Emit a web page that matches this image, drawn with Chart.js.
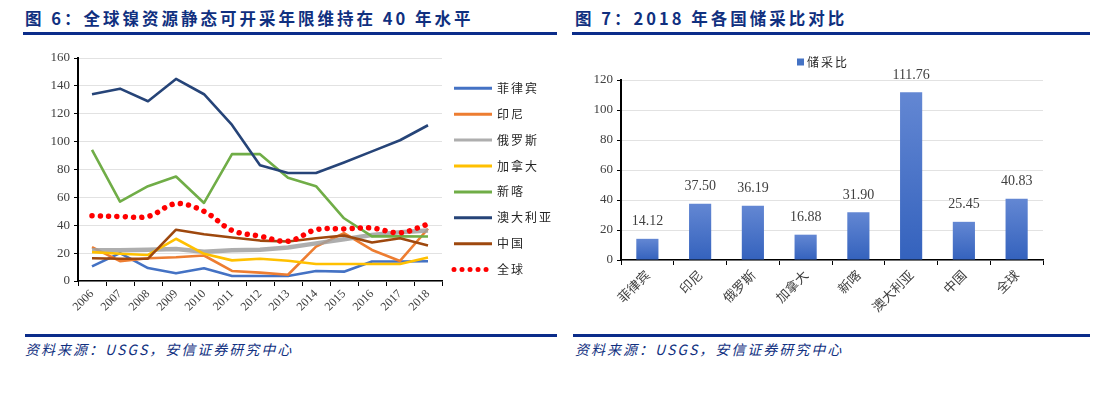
<!DOCTYPE html>
<html><head><meta charset="utf-8">
<script src="https://cdn.jsdelivr.net/npm/chart.js@4/dist/chart.umd.min.js"></script>
<style>
body{margin:0;width:1112px;height:393px;background:#fff;position:relative;overflow:hidden;font-family:"Noto Sans CJK SC",sans-serif;}
.title{position:absolute;top:8px;font-size:16.5px;font-weight:bold;color:#10307f;letter-spacing:3px;white-space:nowrap;line-height:20px}
.rule{position:absolute;height:3px;background:#0b2c8a}
.src{position:absolute;top:340px;font-size:14px;font-style:italic;color:#10307f;letter-spacing:2px;white-space:nowrap;line-height:18px}
canvas{position:absolute}
</style></head>
<body>
<div class="title" style="left:25px">图 6：全球镍资源静态可开采年限维持在 40 年水平</div>
<div class="rule" style="left:23px;width:534px;top:32px"></div>
<div class="title" style="left:575px">图 7：2018 年各国储采比对比</div>
<div class="rule" style="left:572px;width:518px;top:32px"></div>
<canvas id="c1" width="540" height="285" style="left:20px;top:45px"></canvas>
<canvas id="c2" width="530" height="285" style="left:570px;top:45px"></canvas>
<div class="rule" style="left:25px;width:532px;top:334px;height:2.5px"></div>
<div class="rule" style="left:573px;width:517px;top:334px;height:2.5px"></div>
<div class="src" style="left:25px">资料来源：USGS，安信证券研究中心</div>
<div class="src" style="left:575px">资料来源：USGS，安信证券研究中心</div>
<script>
// ---- data ----
const years = ['2006','2007','2008','2009','2010','2011','2012','2013','2014','2015','2016','2017','2018'];
const seriesNames = ['菲律宾','印尼','俄罗斯','加拿大','新喀','澳大利亚','中国','全球'];
const philippines  = [10.5, 20, 9.3, 5.5, 9.1, 3.6, 3.6, 3.6, 7.2, 6.7, 14, 14, 14.12];
const indonesia    = [24.3, 14.2, 16.3, 17, 18.3, 7.2, 6, 4.5, 24.7, 34.3, 22.3, 14.4, 37.50];
const russia       = [22, 22, 22.5, 23, 21, 22, 22.5, 24, 27, 30, 33, 35, 36.19];
const canada       = [20.7, 19.5, 18.7, 30.3, 19.5, 14.8, 16, 14.5, 12.2, 12.2, 12.2, 12.2, 16.88];
const newCaledonia = [94, 57, 68, 75, 56, 91, 91, 74, 68, 45, 32, 32, 31.90];
const australia    = [134, 138, 129, 145, 134, 112, 83, 77.5, 77.5, 85, 93, 101, 111.76];
const china        = [16.3, 16, 16, 36.8, 33.6, 31.2, 29, 28.3, 30.7, 32.7, 27.6, 30.7, 25.45];
const world        = [46.8, 46.3, 46.3, 55.5, 50, 36.3, 32.2, 28.5, 36.8, 37.4, 38, 34.6, 40.83];

const barCategories = ['菲律宾','印尼','俄罗斯','加拿大','新喀','澳大利亚','中国','全球'];
const reserveRatio  = [14.12, 37.50, 36.19, 16.88, 31.90, 111.76, 25.45, 40.83];
const barLegend = '储采比';

const leftTicks = {min:0, max:160, step:20};
const rightTicks = {min:0, max:120, step:20};

// ---- styles ----
Chart.defaults.font.family = '"Liberation Serif", serif';
Chart.defaults.color = '#404040';
const lineColors = ['#4472C4','#ED7D31','rgba(160,160,160,0.85)','#FFC000','#70AD47','#264478','#9E480E','#FF0000'];
const lineSeries = [philippines, indonesia, russia, canada, newCaledonia, australia, china, world];

const datasets = lineSeries.map((d,i)=>{
  const isWorld = i === 7;
  return {
    label: seriesNames[i],
    data: d,
    borderColor: lineColors[i],
    backgroundColor: lineColors[i],
    borderWidth: isWorld ? 5.5 : (i===2 ? 4.5 : 2.6),
    borderDash: isWorld ? [0.01, 8.3] : undefined,
    borderCapStyle: isWorld ? 'round' : 'butt',
    borderJoinStyle: 'round',
    tension: isWorld ? 0.35 : 0,
    pointRadius: 0,
    fill: false,
    order: 7 - i
  };
});

const leftLegend = {
  id:'leftLegend',
  afterDraw(chart){
    const ctx = chart.ctx;
    chart.data.datasets.forEach((ds,i)=>{
      const y = 43.3 + i*25.9;
      ctx.save();
      ctx.strokeStyle = ds.borderColor;
      if (ds.borderDash){ ctx.setLineDash([0.01,8]); ctx.lineCap='round'; ctx.lineWidth=5; }
      else { ctx.lineWidth = 3; }
      ctx.beginPath(); ctx.moveTo(434,y); ctx.lineTo(472,y); ctx.stroke();
      ctx.setLineDash([]);
      ctx.fillStyle='#262626';
      ctx.font='12px "Noto Sans CJK SC"';
      ctx.letterSpacing='2px';
      ctx.textBaseline='middle'; ctx.textAlign='left';
      ctx.fillText(ds.label, 477, y);
      ctx.restore();
    });
  }
};

new Chart(document.getElementById('c1'), {
  type:'line',
  data:{labels: years, datasets},
  options:{
    responsive:false, animation:false, devicePixelRatio:1,
    layout:{padding:{top:13,right:118,left:0,bottom:0}},
    plugins:{legend:{display:false}, tooltip:{enabled:false}},
    scales:{
      x:{
        offset:true,
        grid:{offset:true, drawOnChartArea:false, tickColor:'#000', tickLength:5, lineWidth:1},
        border:{color:'#000', width:1.5},
        ticks:{autoSkip:false, maxRotation:45, minRotation:45, font:{size:12}, color:'#404040', padding:1},
        afterFit(s){ s.height = 49; }
      },
      y:{
        min:leftTicks.min, max:leftTicks.max,
        grid:{color:'#e2e2e2', tickColor:'#000', tickLength:4, lineWidth:1},
        border:{color:'#000', width:2},
        ticks:{stepSize:leftTicks.step, font:{size:13}, color:'#404040', padding:4},
        afterFit(s){ s.width = 58; }
      }
    }
  },
  plugins:[leftLegend]
});

const barLabels = {
  id:'barLabels',
  afterDatasetsDraw(chart){
    const ctx = chart.ctx;
    const meta = chart.getDatasetMeta(0);
    ctx.save();
    ctx.fillStyle='#404040';
    ctx.font='14px "Liberation Serif"';
    ctx.textAlign='center'; ctx.textBaseline='middle';
    meta.data.forEach((bar,i)=>{
      ctx.fillText(chart.data.datasets[0].data[i].toFixed(2), bar.x, bar.y - 17);
    });
    ctx.restore();
  }
};
const rightLegend = {
  id:'rightLegend',
  afterDraw(chart){
    const ctx = chart.ctx;
    ctx.save();
    ctx.fillStyle='#4472C4';
    ctx.fillRect(227,13.5,7,7);
    ctx.fillStyle='#262626';
    ctx.font='12px "Noto Sans CJK SC"';
    ctx.letterSpacing='2px';
    ctx.textBaseline='middle'; ctx.textAlign='left';
    ctx.fillText(chart.data.datasets[0].label, 237, 17);
    ctx.restore();
  }
};

new Chart(document.getElementById('c2'), {
  type:'bar',
  data:{labels: barCategories, datasets:[{
    label: barLegend,
    data: reserveRatio,
    backgroundColor(c){
      const ch = c.chart; const ys = ch.scales && ch.scales.y;
      const v = c.raw;
      if (!ys || typeof v !== 'number') return '#4472C4';
      const top = ys.getPixelForValue(v), bot = ys.getPixelForValue(0);
      if (!isFinite(top) || !isFinite(bot) || top === bot) return '#4472C4';
      const g = ch.ctx.createLinearGradient(0, top, 0, bot);
      g.addColorStop(0, '#6387d3'); g.addColorStop(1, '#3462bd');
      return g;
    },
    borderWidth:0,
    barPercentage:0.42, categoryPercentage:1
  }]},
  options:{
    responsive:false, animation:false, devicePixelRatio:1,
    layout:{padding:{top:35,right:57,left:0,bottom:0}},
    plugins:{legend:{display:false}, tooltip:{enabled:false}},
    scales:{
      x:{
        grid:{offset:true, drawOnChartArea:false, tickColor:'#000', tickLength:5},
        border:{color:'#000', width:1.5},
        ticks:{autoSkip:false, maxRotation:45, minRotation:45, font:{size:13, family:'"Noto Sans CJK SC"'}, color:'#404040', padding:2},
        afterFit(s){ s.height = 70; }
      },
      y:{
        min:rightTicks.min, max:rightTicks.max,
        grid:{color:'#e2e2e2', tickColor:'#000', tickLength:4},
        border:{color:'#000', width:2},
        ticks:{stepSize:rightTicks.step, font:{size:13}, color:'#404040', padding:4},
        afterFit(s){ s.width = 51; }
      }
    }
  },
  plugins:[barLabels, rightLegend]
});
</script>
</body></html>
